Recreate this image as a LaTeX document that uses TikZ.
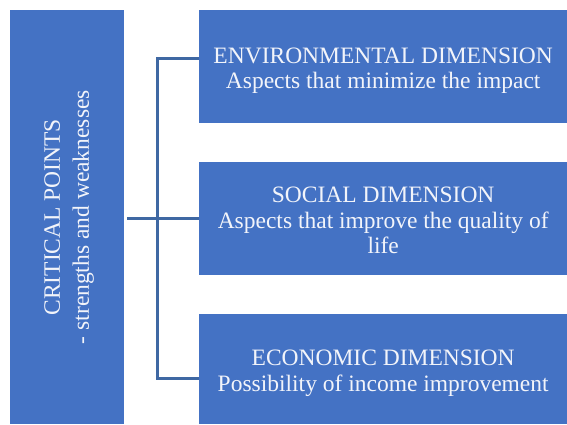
\documentclass[tikz,border=0pt]{standalone}
\usepackage{fontspec}
\setmainfont{Liberation Serif}
\usetikzlibrary{positioning}

\definecolor{boxblue}{HTML}{4472C4}
\definecolor{linkblue}{HTML}{3F68A3}
\definecolor{boxtext}{HTML}{F2F4FA}

\tikzset{
  dimbox/.style={fill=boxblue, minimum width=368pt, inner sep=0pt, anchor=north west},
  dimtext/.style={text=boxtext, align=center, font=\fontsize{23.5}{25.5}\selectfont},
  link/.style={draw=linkblue, line width=3pt},
}

\begin{document}
\begin{tikzpicture}[x=1pt, y=-1pt]
  \useasboundingbox (0,0) rectangle (567,424);

  % left bar
  \node[fill=boxblue, minimum width=114pt, minimum height=414pt, inner sep=0pt, anchor=north west] (crit) at (10,10) {};
  \node[dimtext, font=\fontsize{23.5}{29}\selectfont, rotate=90] (critlabel) at ([xshift=2pt]crit.center) {CRITICAL POINTS\\- strengths and weaknesses};

  % the three dimensions
  \node[dimbox, minimum height=113pt] (env) at (199,10) {};
  \node[dimbox, minimum height=113pt] (social) at (199,162) {};
  \node[dimbox, minimum height=110pt] (eco) at (199,314) {};

  \node[dimtext] (envlabel) at ([yshift=-4pt]env.center) {ENVIRONMENTAL DIMENSION\\Aspects that minimize the impact};
  \node[dimtext] (sociallabel) at ([yshift=-2pt]social.center) {SOCIAL DIMENSION\\Aspects that improve the quality of\\life};
  \node[dimtext] (ecolabel) at ([yshift=-4pt]eco.center) {ECONOMIC DIMENSION\\Possibility of income improvement};

  % bracket
  \coordinate (btop) at (157,58);
  \coordinate (bbot) at (157,378);
  \coordinate (bmid) at (127,218);
  \draw[link] (env.west |- btop) -- (btop) -- (bbot) -- (eco.west |- bbot);
  \draw[link] (bmid) -- (social.west |- bmid);
\end{tikzpicture}
\end{document}
